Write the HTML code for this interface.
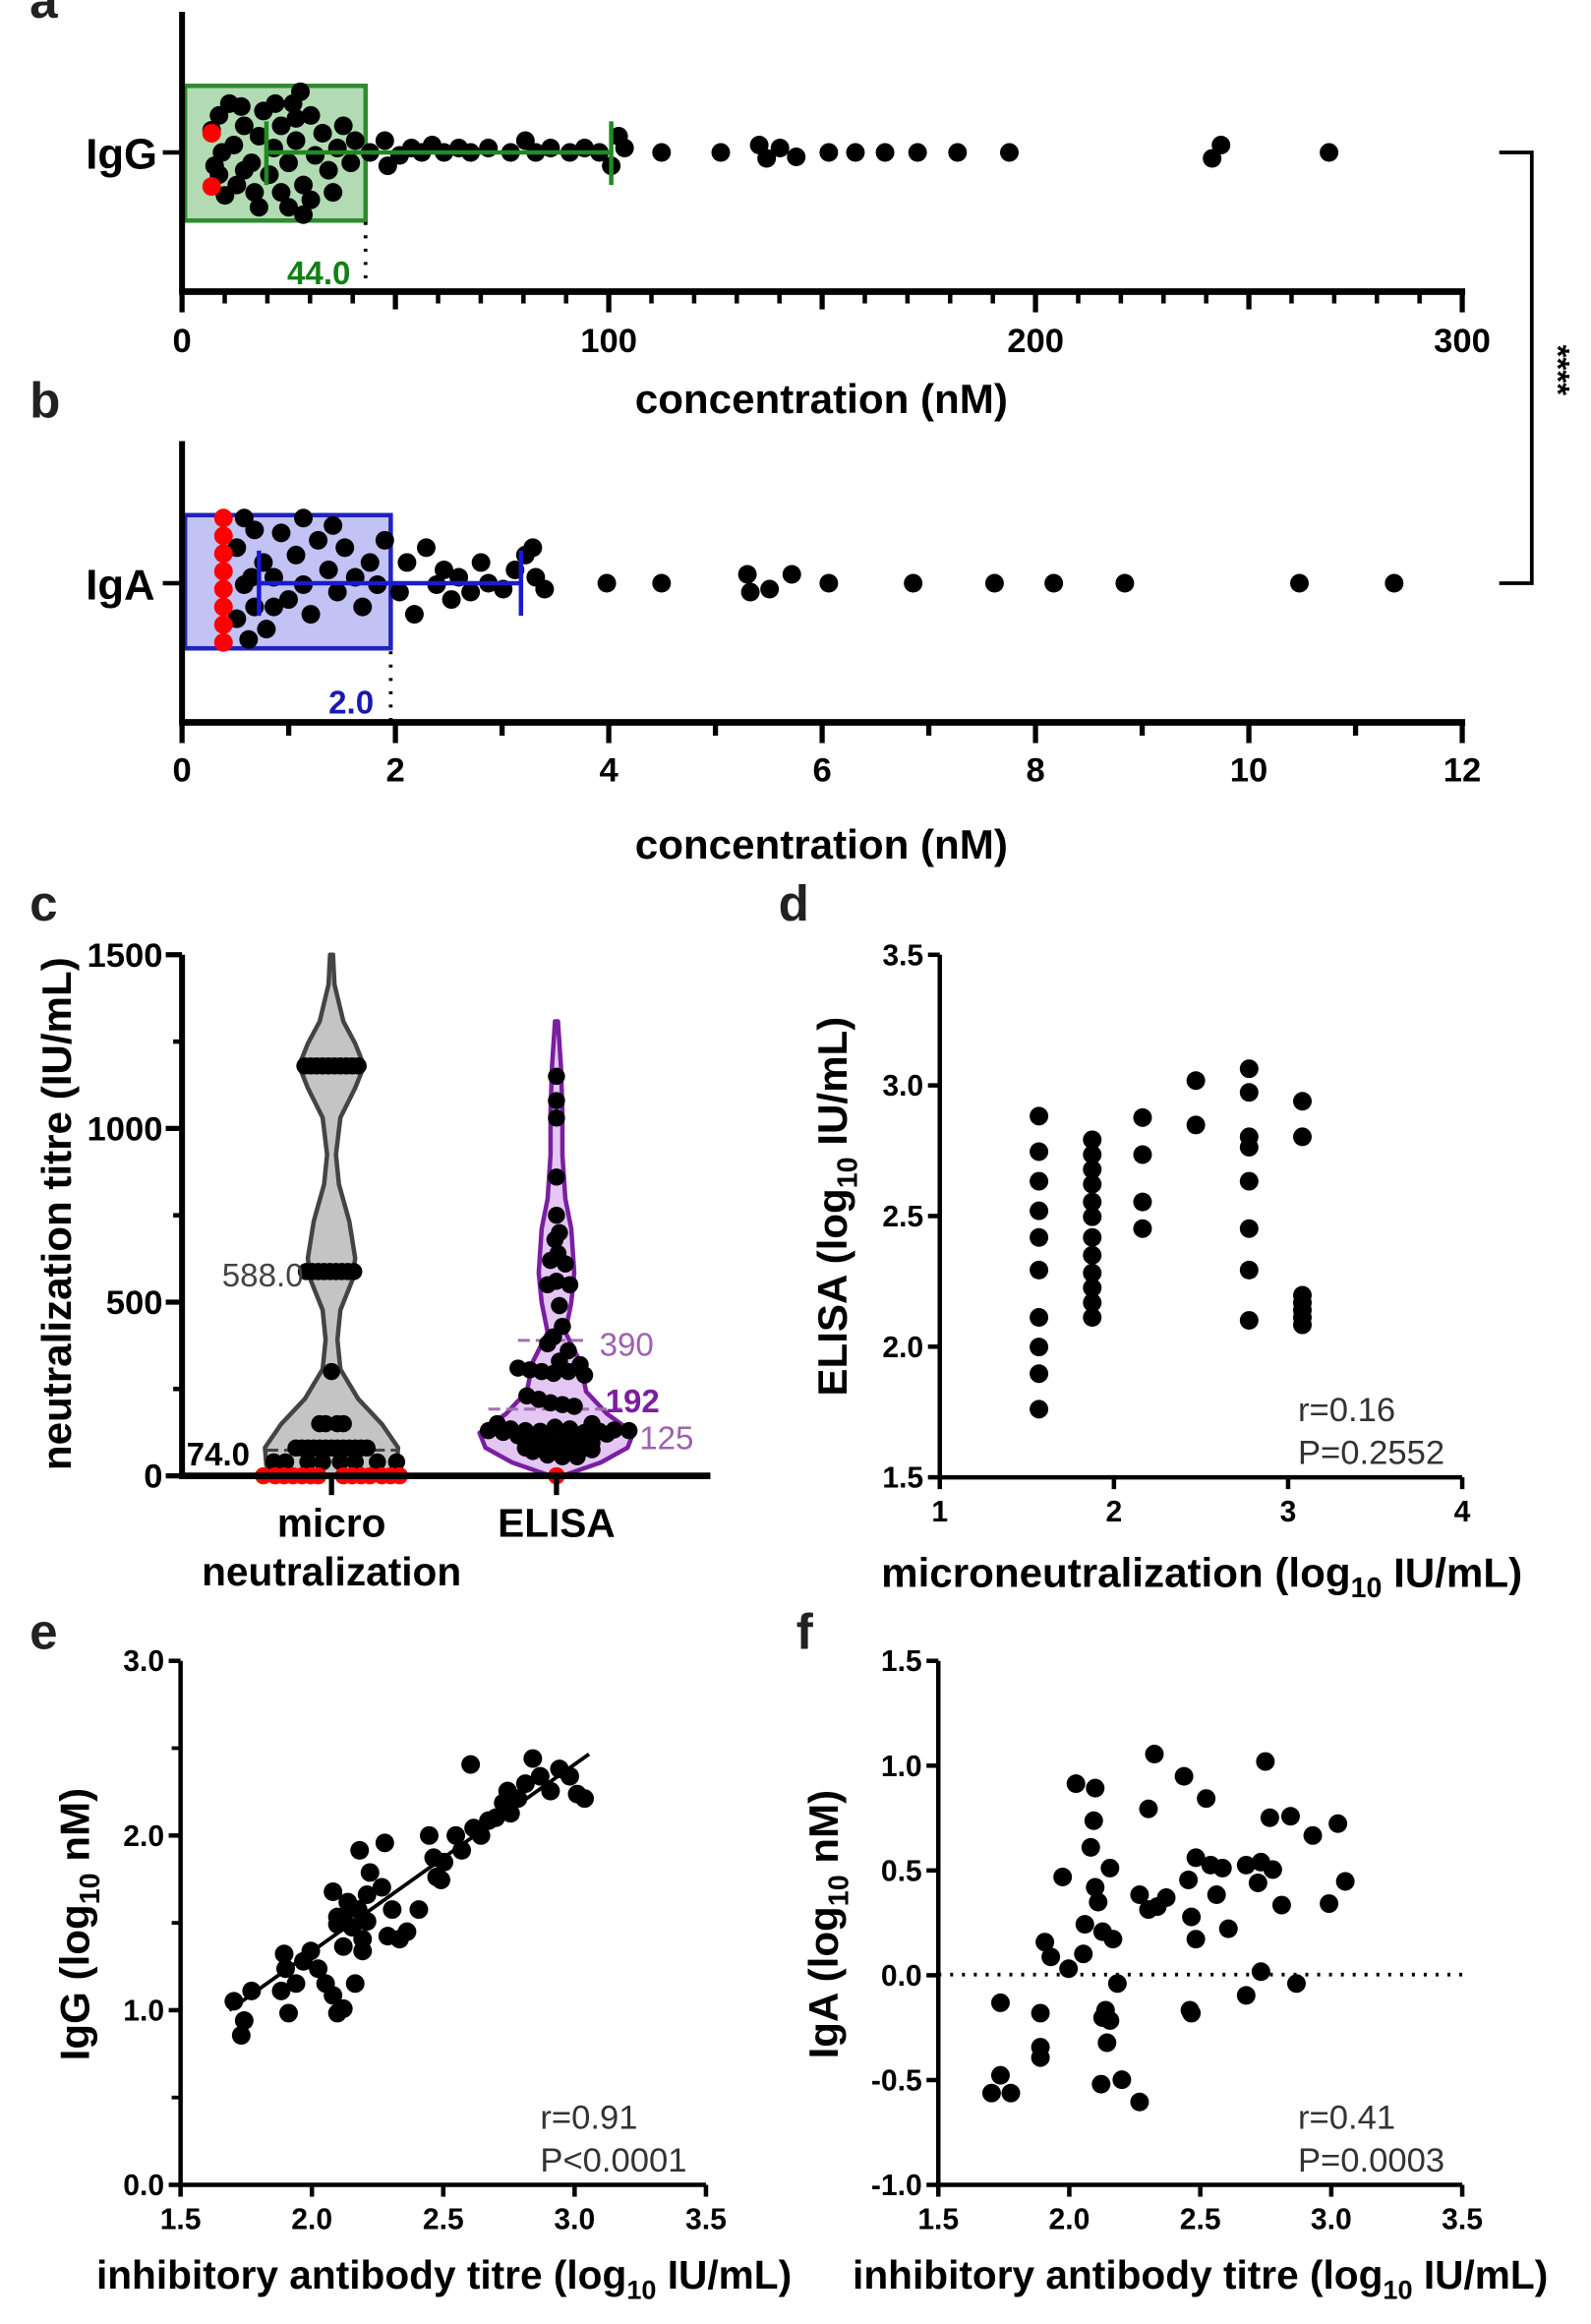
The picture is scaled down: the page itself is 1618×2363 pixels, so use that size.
<!DOCTYPE html>
<html><head><meta charset="utf-8"><style>
html,body{margin:0;padding:0;background:#fff}
svg{display:block}
text{font-family:"Liberation Sans",Arial,sans-serif}
.b{font-weight:bold}
</style></head><body>
<svg id="s" xmlns="http://www.w3.org/2000/svg" width="1618" height="2363" viewBox="0 0 1075 1570" preserveAspectRatio="none">
<rect width="1075" height="1570" fill="#fff"/>
<text x="20" y="12" class="b" font-size="34" fill="#222">a</text>
<text x="20" y="282" class="b" font-size="34" fill="#222">b</text>
<text x="20" y="622" class="b" font-size="34" fill="#222">c</text>
<text x="526" y="622" class="b" font-size="34" fill="#222">d</text>
<text x="20" y="1114" class="b" font-size="34" fill="#222">e</text>
<text x="538" y="1114" class="b" font-size="34" fill="#222">f</text>

<rect x="125" y="58" width="122" height="91" fill="#b3dbb3" stroke="#2e8b2e" stroke-width="3"/>
<g id="ga"></g>
<line x1="180" y1="103" x2="413" y2="103" stroke="#1f8a1f" stroke-width="3"/>
<line x1="180" y1="82" x2="180" y2="125" stroke="#1f8a1f" stroke-width="3"/>
<line x1="413" y1="82" x2="413" y2="125" stroke="#1f8a1f" stroke-width="3"/>
<line x1="247" y1="150" x2="247" y2="197" stroke="#000" stroke-width="2.5" stroke-dasharray="2,7"/>
<text x="194" y="192" class="b" font-size="22" fill="#128012">44.0</text>
<text x="58" y="114" class="b" font-size="29">IgG</text>
<line x1="110" y1="103" x2="123" y2="103" stroke="#000" stroke-width="3"/>
<line x1="123" y1="8" x2="123" y2="197" stroke="#000" stroke-width="4"/>
<line x1="121" y1="197" x2="990" y2="197" stroke="#000" stroke-width="4.5"/>
<g id="ta"></g>
<text x="555" y="279" class="b" font-size="28" text-anchor="middle">concentration (nM)</text>

<rect x="125" y="348" width="139" height="90" fill="#c2c2f5" stroke="#2222c0" stroke-width="3"/>
<g id="gb"></g>
<line x1="175" y1="394" x2="352" y2="394" stroke="#1a1ad0" stroke-width="3"/>
<line x1="175" y1="372" x2="175" y2="416" stroke="#1a1ad0" stroke-width="3"/>
<line x1="352" y1="372" x2="352" y2="416" stroke="#1a1ad0" stroke-width="3"/>
<line x1="264" y1="440" x2="264" y2="488" stroke="#000" stroke-width="2.5" stroke-dasharray="2,7"/>
<text x="222" y="482" class="b" font-size="22" fill="#1a1ab0">2.0</text>
<text x="58" y="405" class="b" font-size="29">IgA</text>
<line x1="110" y1="394" x2="123" y2="394" stroke="#000" stroke-width="3"/>
<line x1="123" y1="298" x2="123" y2="488" stroke="#000" stroke-width="4"/>
<line x1="121" y1="488" x2="990" y2="488" stroke="#000" stroke-width="4.5"/>
<g id="tb"></g>
<text x="555" y="580" class="b" font-size="28" text-anchor="middle">concentration (nM)</text>

<polyline points="1013,103 1035,103 1035,394 1013,394" fill="none" stroke="#000" stroke-width="2.5"/>
<text transform="translate(1045,250) rotate(90)" font-size="22" class="b" text-anchor="middle">****</text>

<g id="gc"></g>
<text transform="translate(48,820) rotate(-90)" class="b" font-size="28" text-anchor="middle">neutralization titre (IU/mL)</text>
<text x="224" y="1038" class="b" font-size="27" text-anchor="middle">micro</text>
<text x="224" y="1071" class="b" font-size="27" text-anchor="middle">neutralization</text>
<text x="376" y="1038" class="b" font-size="27" text-anchor="middle">ELISA</text>

<g id="gd"></g>
<text x="877" y="960" font-size="23" fill="#333">r=0.16</text>
<text x="877" y="989" font-size="23" fill="#333">P=0.2552</text>
<text x="812" y="1072" class="b" font-size="28" text-anchor="middle">microneutralization (log<tspan font-size="19" dy="7">10</tspan><tspan dy="-7"> IU/mL)</tspan></text>
<text transform="translate(572,815) rotate(-90)" class="b" font-size="28" text-anchor="middle">ELISA (log<tspan font-size="19" dy="7">10</tspan><tspan dy="-7"> IU/mL)</tspan></text>

<g id="ge"></g>
<text x="365" y="1438" font-size="23" fill="#333">r=0.91</text>
<text x="365" y="1467" font-size="23" fill="#333">P&lt;0.0001</text>
<text x="300" y="1546" class="b" font-size="27" text-anchor="middle">inhibitory antibody titre (log<tspan font-size="18" dy="7">10</tspan><tspan dy="-7"> IU/mL)</tspan></text>
<text transform="translate(60,1300) rotate(-90)" class="b" font-size="28" text-anchor="middle">IgG (log<tspan font-size="19" dy="7">10</tspan><tspan dy="-7"> nM)</tspan></text>

<g id="gf"></g>
<text x="877" y="1438" font-size="23" fill="#333">r=0.41</text>
<text x="877" y="1467" font-size="23" fill="#333">P=0.0003</text>
<text x="811" y="1546" class="b" font-size="27" text-anchor="middle">inhibitory antibody titre (log<tspan font-size="18" dy="7">10</tspan><tspan dy="-7"> IU/mL)</tspan></text>
<text transform="translate(566,1300) rotate(-90)" class="b" font-size="28" text-anchor="middle">IgA (log<tspan font-size="19" dy="7">10</tspan><tspan dy="-7"> nM)</tspan></text>
</svg>
<script>
var NS="http://www.w3.org/2000/svg";
function el(p,t,a,txt){var e=document.createElementNS(NS,t);for(var k in a)e.setAttribute(k,a[k]);if(txt!==undefined)e.textContent=txt;document.getElementById(p).appendChild(e);return e;}
function dots(p,arr,r,c){arr.forEach(function(d){el(p,'circle',{cx:d[0],cy:d[1],r:r,fill:c||'#000'});});}
function line(p,x1,y1,x2,y2,w,extra){var a={x1:x1,y1:y1,x2:x2,y2:y2,stroke:'#000','stroke-width':w||3};for(var k in extra)a[k]=extra[k];el(p,'line',a);}
function txt(p,x,y,s,sz,anc,bold,fill){el(p,'text',{x:x,y:y,'font-size':sz,'text-anchor':anc||'middle','font-weight':bold?'bold':'normal',fill:fill||'#000'},s);}

var A=[[143,88],[148,78],[155,70],[163,72],[150,103],[145,112],[158,98],[165,85],[170,110],[175,92],[178,75],[182,118],[185,100],[190,85],[195,110],[198,70],[203,62],[200,95],[205,125],[210,78],[213,105],[218,90],[222,115],[228,100],[232,85],[237,110],[240,95],[205,145],[190,130],[172,130],[160,125],[148,118],[165,115],[195,140],[210,135],[225,130],[175,140],[200,80],[186,70],[152,132],
[250,103],[260,95],[262,112],[270,105],[278,100],[285,103],[292,98],[300,103],[310,100],[318,103],[330,100],[345,103],[355,95],[362,103],[372,100],[385,103],[395,100],[405,103],[413,112],[418,92],[422,100],[447,103],[487,103],[513,98],[518,107],[527,100],[538,106],[560,103],[578,103],[598,103],[620,103],[647,103],[682,103],[819,107],[825,98],[898,103]];
dots('ga',A,6.3);dots('ga',[[143,90],[143,126]],6.3,'#f00');
for(var v=0;v<=300;v+=10){var x=123+v*865/300;var L=v%100==0?14:(v%50==0?12:8);line('ta',x,197,x,197+L,v%50==0?3.5:3);}
[0,100,200,300].forEach(function(v){txt('ta',123+v*865/300,238,v,23,'middle',true);});

var B=[[165,350],[172,358],[160,370],[178,380],[165,395],[172,410],[180,425],[168,432],[185,390],[190,360],[195,405],[200,375],[205,395],[210,415],[215,365],[222,385],[228,400],[233,370],[240,390],[245,410],[250,380],[255,395],[260,365],[270,400],[275,380],[280,415],[288,370],[295,395],[300,385],[305,405],[310,390],[318,400],[325,380],[330,394],[340,398],[348,385],[355,375],[360,370],[362,390],[368,398],[170,390],[185,410],[205,350],[225,355],[160,418],[410,394],[447,394],[505,388],[507,400],[520,398],[535,388],[560,394],[617,394],[672,394],[712,394],[760,394],[878,394],[942,394]];
dots('gb',B,6.3);dots('gb',[[151,350],[151,362],[151,374],[151,386],[151,398],[151,410],[151,422],[151,434]],6.3,'#f00');
for(var v=0;v<=12;v+=1){var x=123+v*865/12;line('tb',x,488,x,488+(v%2==0?14:9),3.5);}
for(var v=0;v<=12;v+=2){txt('tb',123+v*865/12,528,v,23,'middle',true);}

function yc(v){return 997-v*352/1500;}
function violin(cx,prof,fill,stroke){var L=[],R=[];prof.forEach(function(p){L.push((cx-p[1])+','+p[0]);R.unshift((cx+p[1])+','+p[0]);});el('gc','polygon',{points:L.concat(R).join(' '),fill:fill,stroke:stroke,'stroke-width':3,'stroke-linejoin':'round'});}
violin(224,[[645,1],[665,2],[690,8],[705,16],[720,22],[735,16],[755,6],[780,3],[800,5],[825,12],[850,16],[865,14],[885,6],[905,4],[925,6],[945,18],[962,34],[978,45],[990,44],[997,38]],'#c4c4c4','#444');
violin(376,[[690,1],[720,3],[750,4],[780,4],[810,6],[830,10],[860,12],[880,10],[900,6],[920,16],[940,20],[955,34],[968,52],[978,48],[988,30],[997,4]],'#e3c6f3','#7a1fa0');
line('gc',180,yc(74),270,yc(74),2,{stroke:'#444','stroke-dasharray':'8,4'});
line('gc',330,yc(192),420,yc(192),2,{stroke:'#a070b0','stroke-dasharray':'8,4'});
line('gc',350,yc(390),395,yc(390),2,{stroke:'#a070b0','stroke-dasharray':'8,4'});
var C=[];
for(var x=206;x<=242;x+=4)C.push([x,yc(1180)]);
for(var x=207;x<=240;x+=4)C.push([x,yc(588)]);
C.push([224,yc(300)],[220,yc(150)],[228,yc(150)],[216,yc(150)],[232,yc(150)]);
for(var x=200;x<=250;x+=4)C.push([x,yc(80)]);
[[185,yc(40)],[193,yc(40)],[208,yc(40)],[218,yc(40)],[230,yc(40)],[240,yc(40)],[255,yc(40)],[268,yc(40)]].forEach(function(d){C.push(d)});
var E=[[376,yc(1150)],[376,yc(1080)],[376,yc(1030)],[376,yc(860)],[376,yc(750)],[378,yc(700)],[375,yc(680)],[377,yc(640)],[372,yc(620)],[382,yc(610)],[370,yc(550)],[385,yc(550)],[376,yc(560)],[378,yc(490)],[380,yc(430)],[374,yc(400)],[370,yc(380)],[384,yc(360)],[378,yc(330)],[392,yc(320)],[350,yc(310)],[358,yc(305)],[366,yc(300)],[374,yc(295)],[384,yc(300)],[395,yc(290)],[356,yc(230)],[364,yc(220)],[372,yc(210)],[380,yc(205)],[388,yc(200)],[400,yc(150)],[336,yc(150)],[330,yc(130)],[345,yc(135)],[355,yc(130)],[365,yc(128)],[375,yc(140)],[385,yc(135)],[395,yc(125)],[405,yc(128)],[415,yc(132)],[425,yc(130)],[340,yc(125)],[350,yc(115)],[360,yc(110)],[370,yc(100)],[380,yc(105)],[390,yc(100)],[400,yc(95)],[410,yc(120)],[355,yc(80)],[365,yc(85)],[375,yc(90)],[385,yc(75)],[395,yc(80)],[370,yc(60)],[380,yc(55)],[390,yc(55)],[360,yc(70)],[400,yc(75)]];
dots('gc',C,5.8);dots('gc',E,5.8);
var RC=[];[178,186,192,198,204,210,215,232,238,244,250,258,264,270].forEach(function(x){RC.push([x,997])});
dots('gc',RC,5.8,'#f00');dots('gc',[[376,997]],5.8,'#f00');
line('gc',123,645,123,999,4);line('gc',121,997,480,997,4.5);
[0,500,1000,1500].forEach(function(v){line('gc',112,yc(v),123,yc(v),3.5);txt('gc',110,yc(v)+8,v,23,'end',true);});
[250,750,1250].forEach(function(v){line('gc',117,yc(v),123,yc(v),3);});
line('gc',224,997,224,1010,3.5);line('gc',376,997,376,1010,3.5);
txt('gc',150,869,'588.0',22,'start',false,'#444');
txt('gc',126,990,'74.0',22,'start',true,'#000');
txt('gc',405,916,'390',22,'start',false,'#a060b0');
txt('gc',409,954,'192',22,'start',true,'#7a1fa0');
txt('gc',432,979,'125',22,'start',false,'#a060b0');

function axes(g,x0,x1,y0,y1,xt,xfmt,yt,yfmt,xv0,xv1,yv0,yv1){
 function X(v){return x0+(v-xv0)*(x1-x0)/(xv1-xv0);} function Y(v){return y0-(v-yv0)*(y0-y1)/(yv1-yv0);}
 line(g,x0,y1,x0,y0+1,3);line(g,x0-1,y0,x1,y0,3);
 xt.forEach(function(v){line(g,X(v),y0,X(v),y0+8,3);txt(g,X(v),y0+30,xfmt(v),20,'middle',true);});
 yt.forEach(function(v){line(g,x0-8,Y(v),x0,Y(v),3);txt(g,x0-11,Y(v)+7,yfmt(v),20,'end',true);});
 return [X,Y];
}
axes('gd',635,988,998,645,[1,2,3,4],function(v){return v},[1.5,2.0,2.5,3.0,3.5],function(v){return v.toFixed(1)},1,4,1.5,3.5);
var D=[];[[702,[754,778,798,818,836,858,890,910,928,952]],[738,[770,780,790,800,812,822,836,848,860,870,880,890]],[772,[755,780,812,830]],[808,[730,760]],[844,[722,738,768,775,798,830,858,892]],[880,[744,768,875,880,885,890,895]]].forEach(function(c){c[1].forEach(function(y){D.push([c[0],y])})});
dots('gd',D,6.3);

axes('ge',122,477,1476,1122,[1.5,2,2.5,3,3.5],function(v){return v.toFixed(1)},[0,1,2,3],function(v){return v.toFixed(1)},1.5,3.5,0,3);
[0.5,1.5,2.5].forEach(function(v){var y=1476-v*118;line('ge',116,y,122,y,2.5);});
line('ge',155,1358,398,1185,2.5);
var EP=[[158,1352],[165,1365],[163,1375],[170,1345],[192,1320],[193,1330],[190,1345],[195,1360],[205,1325],[210,1318],[215,1330],[220,1340],[225,1348],[232,1357],[232,1315],[228,1295],[225,1278],[228,1300],[232,1295],[235,1285],[238,1302],[242,1290],[245,1310],[240,1340],[250,1265],[248,1280],[248,1298],[260,1245],[265,1290],[262,1308],[270,1310],[275,1305],[283,1290],[290,1240],[293,1255],[295,1268],[298,1270],[300,1258],[308,1240],[312,1250],[318,1192],[320,1235],[325,1240],[330,1230],[335,1228],[340,1218],[343,1210],[345,1225],[350,1215],[355,1205],[360,1188],[365,1200],[372,1210],[378,1195],[385,1200],[390,1212],[395,1215],[228,1360],[245,1318],[200,1340],[243,1250],[258,1275]];
dots('ge',EP,6.3);

axes('gf',634,988,1476,1122,[1.5,2,2.5,3,3.5],function(v){return v.toFixed(1)},[-1,-0.5,0,0.5,1,1.5],function(v){return v.toFixed(1)},1.5,3.5,-1,1.5);
line('gf',634,1334,988,1334,2.5,{'stroke-dasharray':'2,6'});
var FP=[[670,1414],[676,1402],[683,1414],[676,1353],[703,1360],[703,1383],[703,1390],[706,1312],[710,1322],[718,1268],[722,1330],[727,1205],[732,1320],[733,1300],[737,1248],[739,1230],[740,1208],[740,1275],[742,1285],[745,1305],[745,1363],[747,1358],[748,1380],[750,1365],[752,1310],[755,1340],[744,1408],[758,1405],[770,1420],[770,1280],[776,1222],[776,1290],[780,1185],[782,1288],[788,1282],[800,1200],[803,1270],[805,1295],[805,1360],[808,1255],[808,1310],[815,1215],[818,1260],[822,1280],[826,1262],[830,1303],[842,1348],[842,1260],[850,1272],[852,1258],[852,1332],[855,1190],[858,1228],[860,1263],[866,1287],[872,1227],[876,1340],[887,1240],[898,1286],[904,1232],[909,1271],[804,1358],[750,1262]];
dots('gf',FP,6.3);
</script>
</body></html>
